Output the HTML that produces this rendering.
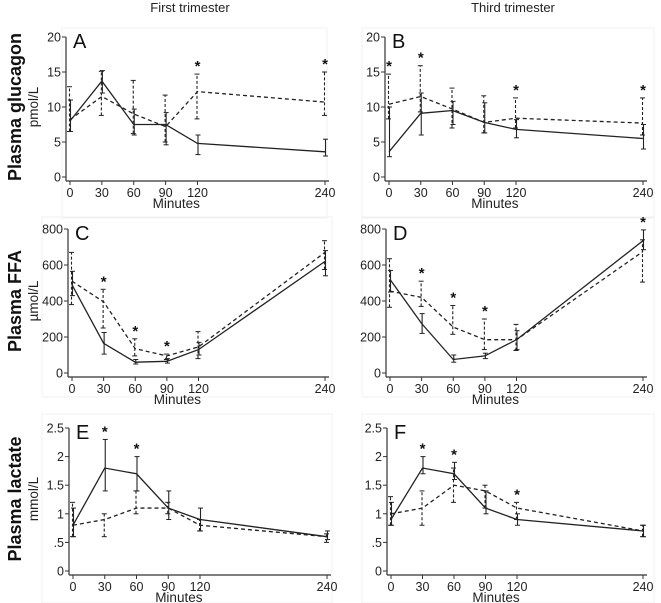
<!DOCTYPE html>
<html><head><meta charset="utf-8"><style>
body{margin:0;background:#fff;font-family:"Liberation Sans",sans-serif}
svg{display:block}
</style></head><body>
<svg id="c" width="661" height="603" viewBox="0 0 661 603"></svg>
<script>
const times=[0,30,60,90,120,240];
const xTicks=[0,30,60,90,120,240];
// Panel A: glucagon first trimester
const aSolid=[8,13.7,7.5,7.5,4.8,3.6];
const aSolidLo=[6.5,12,6,4.6,3.2,3];
const aSolidHi=[11,15.2,9.7,9.2,6,5.4];
const aDash=[8.2,11.5,9,7.2,12.2,10.7];
const aDashLo=[6.5,8.8,6.2,5,8.3,8.8];
const aDashHi=[12.9,15.1,13.8,11.7,14.7,15];
const aStars=[120,240];
// Panel B
const bSolid=[3.6,9.1,9.5,7.8,6.8,5.5];
const bSolidLo=[2.9,6,7.5,6.3,5.6,4];
const bSolidHi=[10,12,10.8,10.6,8.2,7.5];
const bDash=[10.4,11.5,9.7,7.8,8.4,7.7];
const bDashLo=[8.3,9.3,7,6.3,7,6];
const bDashHi=[14.7,15.9,12.7,11.6,11.3,11.3];
const bStars=[0,30,120,240];
// Panel C
const cSolid=[490,165,60,65,130,620];
const cSolidLo=[430,105,50,55,100,540];
const cSolidHi=[565,225,75,80,170,680];
const cDash=[510,395,135,95,145,670];
const cDashLo=[380,250,95,75,80,575];
const cDashHi=[670,465,190,105,230,735];
const cStars=[30,60,90];
// Panel D
const dSolid=[520,275,75,95,185,735];
const dSolidLo=[450,220,60,80,130,685];
const dSolidHi=[570,330,100,110,235,795];
const dDash=[455,420,255,185,185,675];
const dDashLo=[365,370,215,130,125,505];
const dDashHi=[635,510,375,300,270,740];
const dStars=[30,60,90,240];
// Panel E
const eSolid=[0.8,1.8,1.7,1.1,0.9,0.6];
const eSolidLo=[0.6,1.4,1.4,0.9,0.7,0.55];
const eSolidHi=[1.1,2.3,2.0,1.4,1.1,0.7];
const eDash=[0.8,0.9,1.1,1.1,0.8,0.6];
const eDashLo=[0.6,0.6,1.0,1.0,0.7,0.5];
const eDashHi=[1.2,1.0,1.4,1.2,0.9,0.65];
const eStars=[30,60];
// Panel F
const fSolid=[0.9,1.8,1.7,1.1,0.9,0.7];
const fSolidLo=[0.8,1.7,1.6,1.0,0.8,0.6];
const fSolidHi=[1.2,2.0,1.9,1.4,1.0,0.8];
const fDash=[1.0,1.1,1.5,1.4,1.1,0.7];
const fDashLo=[0.8,0.8,1.2,1.1,0.9,0.6];
const fDashHi=[1.3,1.4,1.8,1.5,1.2,0.8];
const fStars=[30,60,120];
const glucTicks=[0,5,10,15,20], glucTickLabels=["0","5","10","15","20"];
const ffaTicks=[0,200,400,600,800], ffaTickLabels=["0","200","400","600","800"];
const lacTicks=[0,0.5,1,1.5,2,2.5], lacTickLabels=["0",".5","1","1.5","2","2.5"];

const svg=document.getElementById('c');
const NS='http://www.w3.org/2000/svg';
function mk(tag,attrs,parent){const e=document.createElementNS(NS,tag);for(const k in attrs)e.setAttribute(k,attrs[k]);(parent||svg).appendChild(e);return e;}
function txt(s,attrs,parent){const e=mk('text',attrs,parent);e.textContent=s;return e;}

const panels=[
 {id:'a',L:'A',x0:70,x1:325,y0:177,y1:37,ymax:20,ticks:glucTicks,tl:glucTickLabels,s:aSolid,sl:aSolidLo,sh:aSolidHi,d:aDash,dl:aDashLo,dh:aDashHi,st:aStars,box:[62,28,265,190]},
 {id:'b',L:'B',x0:389,x1:643,y0:177,y1:37,ymax:20,ticks:glucTicks,tl:glucTickLabels,s:bSolid,sl:bSolidLo,sh:bSolidHi,d:bDash,dl:bDashLo,dh:bDashHi,st:bStars,box:[362,28,292,190]},
 {id:'c',L:'C',x0:72,x1:325,y0:373,y1:229,ymax:800,ticks:ffaTicks,tl:ffaTickLabels,s:cSolid,sl:cSolidLo,sh:cSolidHi,d:cDash,dl:cDashLo,dh:cDashHi,st:cStars,box:[42,217,290,180]},
 {id:'d',L:'D',x0:390,x1:643,y0:373,y1:229,ymax:800,ticks:ffaTicks,tl:ffaTickLabels,s:dSolid,sl:dSolidLo,sh:dSolidHi,d:dDash,dl:dDashLo,dh:dDashHi,st:dStars,box:[362,217,292,180]},
 {id:'e',L:'E',x0:73,x1:327,y0:571,y1:428,ymax:2.5,ticks:lacTicks,tl:lacTickLabels,s:eSolid,sl:eSolidLo,sh:eSolidHi,d:eDash,dl:eDashLo,dh:eDashHi,st:eStars,box:[42,414,290,189]},
 {id:'f',L:'F',x0:391,x1:643,y0:571,y1:428,ymax:2.5,ticks:lacTicks,tl:lacTickLabels,s:fSolid,sl:fSolidLo,sh:fSolidHi,d:fDash,dl:fDashLo,dh:fDashHi,st:fStars,box:[362,414,292,189]}
];

txt('First trimester',{x:190,y:12,'text-anchor':'middle','font-size':13,fill:'#222'});
txt('Third trimester',{x:513,y:12,'text-anchor':'middle','font-size':13,fill:'#222'});

panels.forEach(p=>{
  const g=mk('g',{});
  
  
  const X=t=>p.x0+(p.x1-p.x0)*t/240;
  const Y=v=>p.y0-(p.y0-p.y1)*v/p.ymax;
  mk('rect',{x:p.box[0],y:p.box[1],width:p.box[2],height:p.box[3],fill:'none',stroke:'#f0f0f0'},g);
  const ax=mk('line',{x1:p.x0-4,y1:Y(0)+4,x2:p.x0-4,y2:Y(p.ymax),stroke:'#333','stroke-width':1.2},g);
  
  const bx=mk('line',{x1:p.x0-4,y1:Y(0)+4,x2:X(240)+4,y2:Y(0)+4,stroke:'#333','stroke-width':1.2},g);
  
  p.ticks.forEach((v,i)=>{
    mk('line',{x1:p.x0-8,x2:p.x0-4,y1:Y(v),y2:Y(v),stroke:'#333'},g);
    const t=txt(p.tl[i],{x:p.x0-9,y:Y(v)+4.5,'text-anchor':'end','font-size':12.5,fill:'#222'},g);
    
  });
  xTicks.forEach(v=>{
    mk('line',{x1:X(v),x2:X(v),y1:Y(0)+4,y2:Y(0)+8,stroke:'#333'},g);
    const t=txt(String(v),{x:X(v),y:Y(0)+20,'text-anchor':'middle','font-size':12.5,fill:'#222'},g);
    
  });
  const mt=txt('Minutes',{x:X(100),y:Y(0)+31,'text-anchor':'middle','font-size':13.5,fill:'#222'},g);
  
  const lt=txt(p.L,{x:p.x0+3,y:p.y1+11,'font-size':20,fill:'#111'},g);
  
  function bars(lo,hi,dash,name){
    times.forEach((t,i)=>{
      const x=X(t)+(dash?-0.5:0.5);
      const a={stroke:'#222','stroke-width':1.1};
      if(dash)a['stroke-dasharray']='3,2';
      const l=mk('line',Object.assign({x1:x,x2:x,y1:Y(lo[i]),y2:Y(hi[i])},a),g);
      
      mk('line',{x1:x-2.5,x2:x+2.5,y1:Y(lo[i]),y2:Y(lo[i]),stroke:'#222'},g);
      mk('line',{x1:x-2.5,x2:x+2.5,y1:Y(hi[i]),y2:Y(hi[i]),stroke:'#222'},g);
    });
  }
  bars(p.sl,p.sh,false,'solid-error-bar');
  bars(p.dl,p.dh,true,'dashed-error-bar');
  const sp=mk('polyline',{points:times.map((t,i)=>X(t)+','+Y(p.s[i])).join(' '),fill:'none',stroke:'#222','stroke-width':1.3},g);
  
  const dp=mk('polyline',{points:times.map((t,i)=>X(t)+','+Y(p.d[i])).join(' '),fill:'none',stroke:'#222','stroke-width':1.3,'stroke-dasharray':'4,3'},g);
  
  p.st.forEach(t=>{
    const i=times.indexOf(t);
    const top=Math.max(p.sh[i],p.dh[i]);
    const s=txt('*',{x:X(t),y:Y(top)-3,'text-anchor':'middle','font-size':15,'font-weight':'bold',fill:'#111'},g);
    
  });
});
[['Plasma glucagon','pmol/L',107],['Plasma FFA','µmol/L',301],['Plasma lactate','mmol/L',499]].forEach((r,i)=>{
  const t=txt(r[0],{x:0,y:0,transform:'translate(21,'+r[2]+') rotate(-90)','text-anchor':'middle','font-size':18,'font-weight':'bold',fill:'#111'});
  
  const u=txt(r[1],{x:0,y:0,transform:'translate(38,'+r[2]+') rotate(-90)','text-anchor':'middle','font-size':13.5,fill:'#222'});
  
});
</script>
</body></html>
